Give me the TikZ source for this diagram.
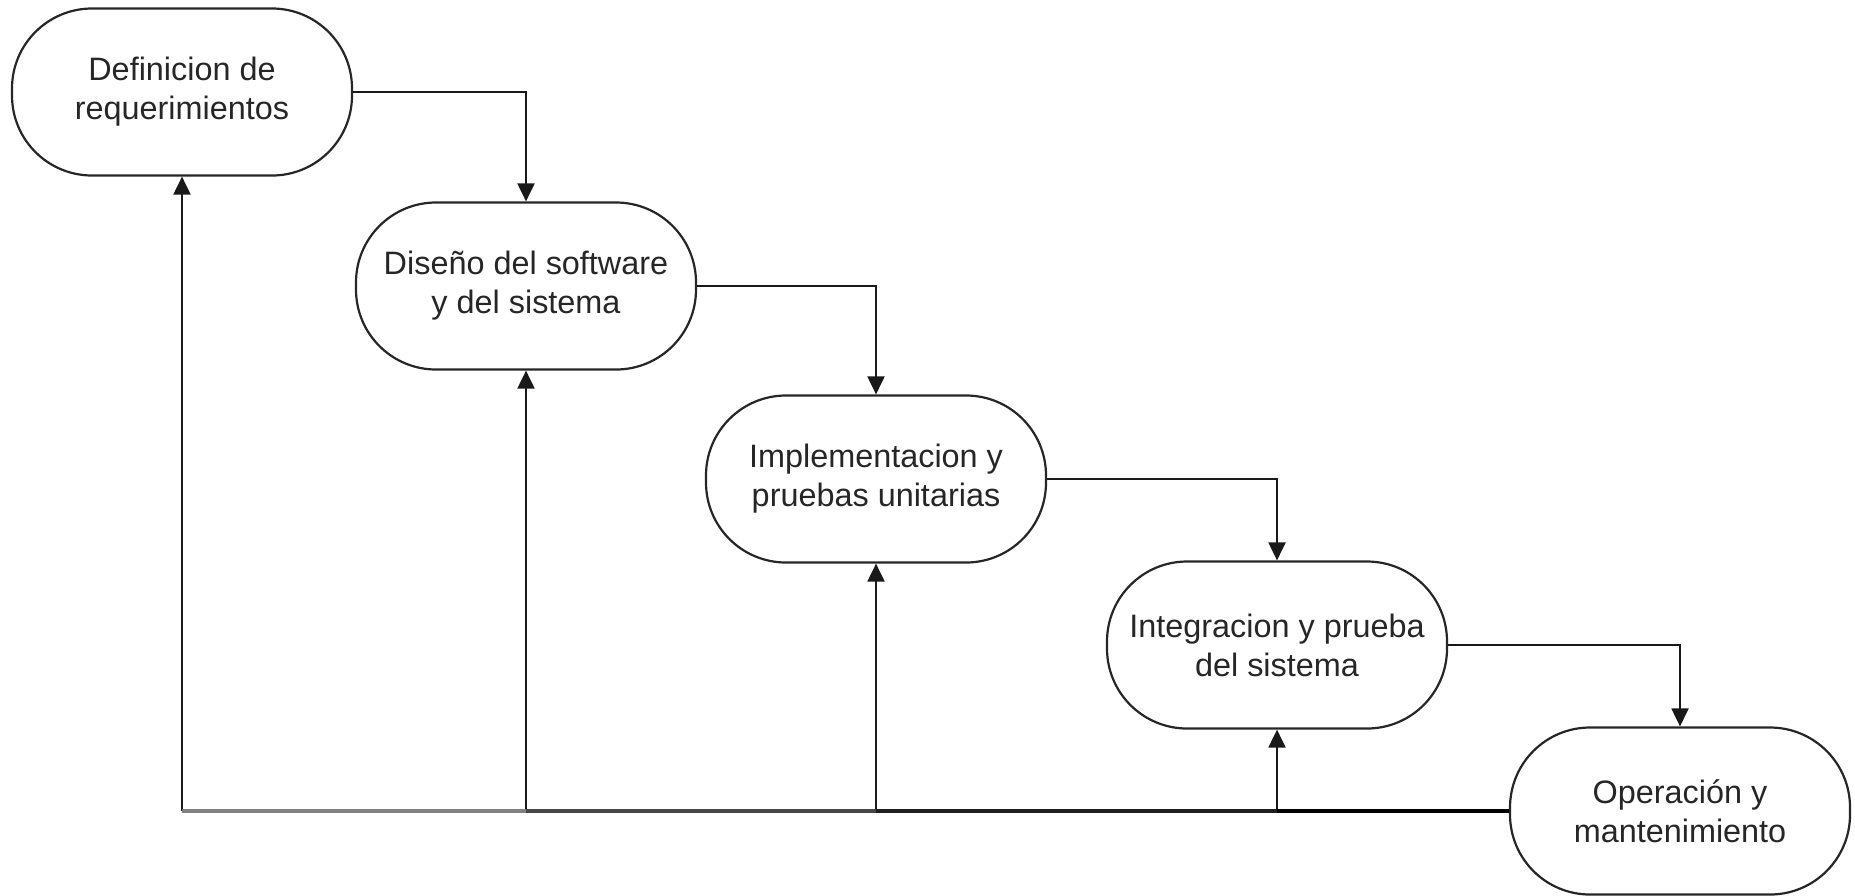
\documentclass[tikz,border=0pt]{standalone}
\usepackage{fontspec}
\setmainfont{Liberation Sans}
\usetikzlibrary{arrows.meta}
\tikzset{
  stage/.style={draw=black!85, line width=1.1pt, rounded corners=40pt,
    minimum width=170pt, minimum height=83.5pt, align=center,
    text=black!85, font=\fontsize{16.2}{19.5}\selectfont, inner sep=0pt},
  flow/.style={draw=black!90, line width=1pt, -{Triangle[length=9pt,width=8.5pt]}},
  feed/.style={draw=black!90, line width=1pt, -{Triangle[length=9pt,width=8.5pt]}}
}
\begin{document}
\begin{tikzpicture}[x=0.5pt,y=-0.5pt]
\useasboundingbox (0,0) rectangle (1855,895);
\node[stage] (n1) at (182,92) {Definicion de\\requerimientos};
\node[stage] (n2) at (526,286) {Diseño del software\\y del sistema};
\node[stage] (n3) at (876,479) {Implementacion y\\pruebas unitarias};
\node[stage] (n4) at (1277,645) {Integracion y prueba\\del sistema};
\node[stage] (n5) at (1680,811) {Operación y\\mantenimiento};

\draw[flow] (n1.east) -| (n2.north);
\draw[flow] (n2.east) -| (n3.north);
\draw[flow] (n3.east) -| (n4.north);
\draw[flow] (n4.east) -| (n5.north);

\coordinate (b1) at (n1.south |- n5.west);
\coordinate (b2) at (n2.south |- n5.west);
\coordinate (b3) at (n3.south |- n5.west);
\coordinate (b4) at (n4.south |- n5.west);

\draw[feed] (b1) -- (n1.south);
\draw[feed] (b2) -- (n2.south);
\draw[feed] (b3) -- (n3.south);
\draw[feed] (b4) -- (n4.south);

\draw[line width=1.6pt, black!50] (b1) -- (b2);
\draw[line width=1.8pt, black!72] (b2) -- (b3);
\draw[line width=2pt, black!88] (b3) -- (b4);
\draw[line width=2.2pt, black] (b4) -- (n5.west);
\end{tikzpicture}
\end{document}
